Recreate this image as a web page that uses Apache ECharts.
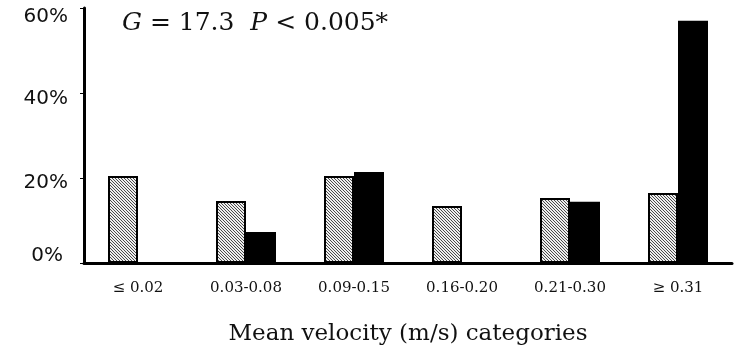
<!DOCTYPE html>
<html>
<head>
<meta charset="utf-8">
<script src="https://cdn.jsdelivr.net/npm/echarts@6/dist/echarts.min.js"></script>
<style>
  html, body { margin: 0; padding: 0; background: #fff; }
  #chart { width: 740px; height: 352px; }
</style>
</head>
<body>
<div id="chart"></div>
<script>
const categories = ['\u2264 0.02', '0.03-0.08', '0.09-0.15', '0.16-0.20', '0.21-0.30', '\u2265 0.31']
const hatchedValues = [20.5, 14.6, 20.5, 13.4, 15.3, 16.5]
const solidValues = [0, 7.3, 21.4, 0, 14.4, 57]
const yTicks = [0, 20, 40, 60]

// diagonal hatch, drawn into a tiny canvas and repeated
function hatchPattern() {
  const c = document.createElement('canvas')
  c.width = 3
  c.height = 3
  const ctx = c.getContext('2d')
  ctx.fillStyle = '#eeeeee'
  ctx.fillRect(0, 0, 3, 3)
  ctx.fillStyle = '#4a4a4a'
  for (let i = 0; i < 3; i++) ctx.fillRect(i, i, 1, 1)
  return { image: c, repeat: 'repeat' }
}

// nudge tick labels a little, like the original layout
const labelPad = { 0: [0, 5, 14, 0], 20: [10, 0, 0, 0], 40: [12, 0, 0, 0], 60: [18, 0, 0, 0] }
const rich = {}
yTicks.forEach((t) => {
  rich['t' + t] = {
    fontFamily: 'DejaVu Sans',
    fontSize: 20,
    color: '#111',
    padding: labelPad[t],
  }
})

const chart = echarts.init(document.getElementById('chart'), null, { renderer: 'canvas' })
chart.setOption({
  animation: false,
  title: {
    text: '{i|G} = 17.3  {i|P} < 0.005*',
    left: 122,
    top: 11,
    padding: 0,
    textStyle: {
      fontFamily: 'DejaVu Serif',
      fontSize: 25,
      fontWeight: 'normal',
      color: '#111',
      rich: {
        i: { fontFamily: 'DejaVu Serif', fontStyle: 'italic', fontSize: 25, color: '#111' },
      },
    },
  },
  grid: { left: 84, right: 8, top: 8, bottom: 89 },
  xAxis: {
    type: 'category',
    data: categories,
    name: 'Mean velocity (m/s) categories',
    nameLocation: 'middle',
    nameGap: 60,
    nameTextStyle: { fontFamily: 'DejaVu Serif', fontSize: 23, color: '#111' },
    axisLine: { lineStyle: { color: '#000', width: 3 } },
    axisTick: { show: false },
    axisLabel: { fontFamily: 'DejaVu Serif', fontSize: 15, color: '#111', margin: 18 },
  },
  yAxis: {
    type: 'value',
    min: 0,
    max: 60,
    interval: 20,
    axisLine: { show: true, lineStyle: { color: '#000', width: 3 } },
    axisTick: { show: true, length: 4, lineStyle: { color: '#000', width: 1 } },
    splitLine: { show: false },
    axisLabel: {
      margin: 16,
      formatter: (v) => `{t${v}|${v}%}`,
      rich,
    },
  },
  series: [
    {
      type: 'bar',
      data: hatchedValues,
      barWidth: 30,
      barGap: '0%',
      itemStyle: { color: hatchPattern(), borderColor: '#000', borderWidth: 2 },
    },
    {
      type: 'bar',
      data: solidValues,
      barWidth: 30,
      itemStyle: { color: '#000', borderColor: '#000', borderWidth: 2 },
    },
  ],
})
</script>
</body>
</html>
